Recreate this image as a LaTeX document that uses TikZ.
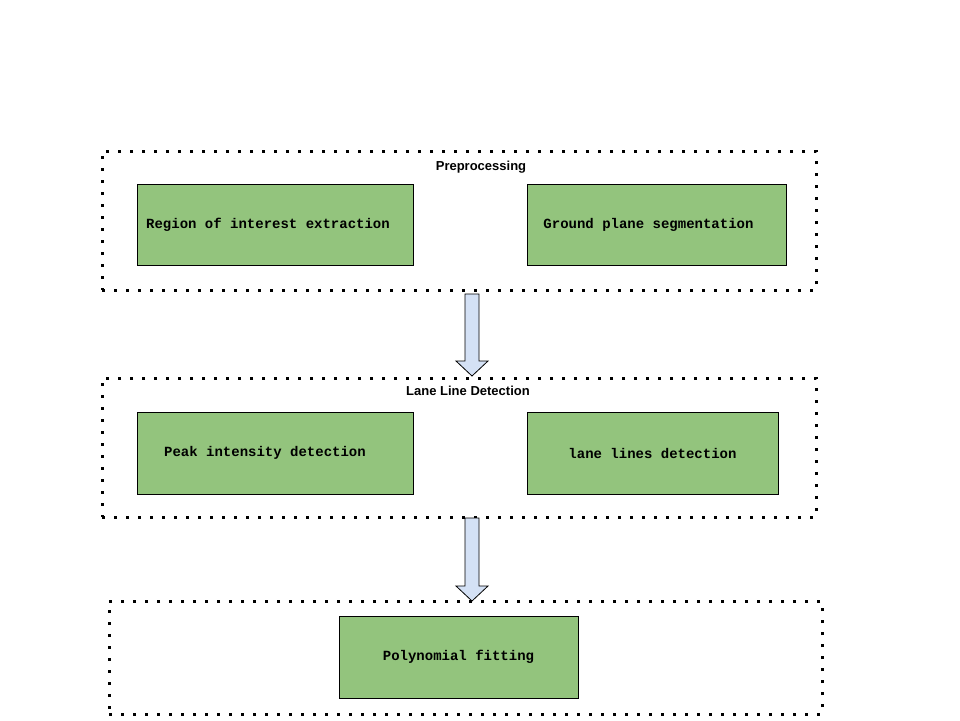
\documentclass[tikz,border=0pt]{standalone}
\usepackage{fontspec}
\setmainfont{Liberation Sans}
\setmonofont{Liberation Mono}
\usetikzlibrary{calc}
\definecolor{stepgreen}{HTML}{93C47D}
\definecolor{arrowblue}{HTML}{D4E1F5}
\tikzset{
	stage/.style={draw,line width=3pt,dash pattern=on 3pt off 9pt,inner sep=0},
	task/.style={draw,line width=0.9pt,fill=stepgreen,inner sep=0,
		font=\ttfamily\bfseries\fontsize{14}{16}\selectfont},
	title/.style={font=\bfseries\fontsize{13}{15}\selectfont},
	flow/.style={draw,line width=0.8pt,fill=arrowblue,line join=miter}
}
\newcommand{\flowarrow}[2]{%
	\path[flow] let \p1=(#1), \p2=(#2) in
		(\x1-7pt,\y1) -- (\x1+7pt,\y1) -- (\x1+7pt,\y2+15pt) -- (\x1+16pt,\y2+15pt)
		-- (\x1,\y2) -- (\x1-16pt,\y2+15pt) -- (\x1-7pt,\y2+15pt) -- cycle;}
\begin{document}
\begin{tikzpicture}[x=1pt,y=-1pt]
	\useasboundingbox (0,0) rectangle (960,720);
	% Stages
	\node [stage,minimum width=714,minimum height=139] (pre) at (459,220.5) {};
	\node [stage,minimum width=714,minimum height=139] (lld) at (459,447.5) {};
	\node [stage,minimum width=713,minimum height=113] (fit) at (465.5,657.5) {};
	\node [title] (pretitle) at (481,167) {Preprocessing};
	\node [title] (lldtitle) at (468,391) {Lane Line Detection};
	% Preprocessing
	\node [task,minimum width=276,minimum height=81] (roi) at (275,224.5) {\raisebox{2pt}{\hspace*{-14pt}Region of interest extraction}};
	\node [task,minimum width=259,minimum height=81] (gps) at (656.5,224.5) {\raisebox{2pt}{\hspace*{-16pt}Ground plane segmentation}};
	% Lane line detection
	\node [task,minimum width=276,minimum height=82] (peak) at (275,453) {\hspace*{-20pt}Peak intensity detection};
	\node [task,minimum width=251,minimum height=82] (lines) at (652.5,453) {lane lines detection};
	% Fitting
	\node [task,minimum width=239,minimum height=82] (poly) at (458.5,657) {Polynomial fitting};
	% Arrows
	\coordinate (a1s) at (472,294); \coordinate (a1e) at (472,376);
	\coordinate (a2s) at (472,518); \coordinate (a2e) at (472,601);
	\flowarrow{a1s}{a1e}
	\flowarrow{a2s}{a2e}
\end{tikzpicture}
\end{document}
